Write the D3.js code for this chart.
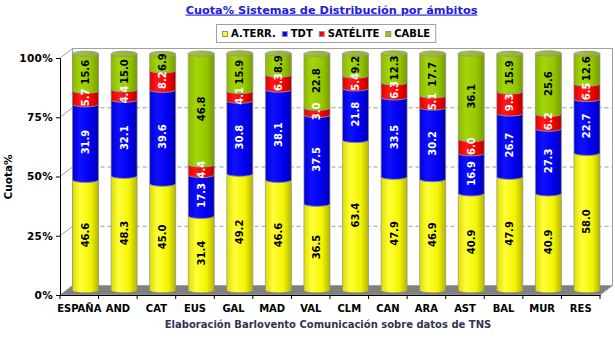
<!DOCTYPE html>
<html><head><meta charset="utf-8">
<script src="https://cdn.jsdelivr.net/npm/d3@7"></script>
<style>
html,body{margin:0;padding:0;background:#fff;}
svg{display:block;font-family:"DejaVu Sans",sans-serif;font-weight:bold;}
</style></head><body>
<svg id="chart" width="615" height="339"></svg>
<script>
// Cuota de cada sistema de distribución de TV por ámbito (%)
const regions   = ["ESPAÑA","AND","CAT","EUS","GAL","MAD","VAL","CLM","CAN","ARA","AST","BAL","MUR","RES"];
const terrestre = [46.6,48.3,45.0,31.4,49.2,46.6,36.5,63.4,47.9,46.9,40.9,47.9,40.9,58.0];
const tdt       = [31.9,32.1,39.6,17.3,30.8,38.1,37.5,21.8,33.5,30.2,16.9,26.7,27.3,22.7];
const satelite  = [5.7,4.4,8.2,4.4,4.1,6.3,3.0,5.4,6.3,5.1,6.0,9.3,6.2,6.5];
const cable     = [15.6,15.0,6.9,46.8,15.9,8.9,22.8,9.2,12.3,17.7,36.1,15.9,25.6,12.6];
const seriesNames = ["A.TERR.","TDT","SATÉLITE","CABLE"];
const yTicks = [0,25,50,75,100];

const palette = {
  "A.TERR.":  {base:"#ffff00", stops:["#dede00","#ffff3a","#f4f400","#b5b500"], text:"#000"},
  "TDT":      {base:"#0000ff", stops:["#0000d8","#1010ff","#0000f0","#0000b0"], text:"#fff"},
  "SATÉLITE": {base:"#ff0000", stops:["#dd0000","#ff1a1a","#f40000","#b50000"], text:"#fff"},
  "CABLE":    {base:"#99cc00", stops:["#8cb800","#a3d60a","#96c600","#769c00"], text:"#000"}
};

const rows = regions.map((r,i)=>({region:r, "A.TERR.":terrestre[i], "TDT":tdt[i], "SATÉLITE":satelite[i], "CABLE":cable[i]}));
const stacked = d3.stack().keys(seriesNames)(rows);

const svg = d3.select("#chart");
const defs = svg.append("defs");

// plot frame and 3D depth
const plotLeft = 60, plotRight = 600, plotBottom = 295, plotTop = 58;
const dx = 12.5, dy = -9.5;

const x = d3.scaleBand().domain(regions).range([plotLeft,plotRight]).paddingInner(0.326).paddingOuter(0.163);
const y = d3.scaleLinear().domain([0,100]).range([plotBottom,plotTop]);

// cylinder shading gradients
seriesNames.forEach((s,k)=>{
  const g = defs.append("linearGradient").attr("id","g"+k).attr("x1","0").attr("x2","1").attr("y1","0").attr("y2","0");
  const st = palette[s].stops;
  [[0,st[0]],[0.3,st[1]],[0.7,st[2]],[1,st[3]]].forEach(([o,c])=>g.append("stop").attr("offset",o).attr("stop-color",c));
});
const capGrad = defs.append("linearGradient").attr("id","cap").attr("x1","0").attr("x2","1");
capGrad.append("stop").attr("offset",0).attr("stop-color","#a8c43a");
capGrad.append("stop").attr("offset",1).attr("stop-color","#92b02a");

// back wall
svg.append("rect").attr("x",plotLeft+dx).attr("y",plotTop+dy).attr("width",plotRight-plotLeft).attr("height",plotBottom-plotTop)
  .attr("fill","#fff").attr("stroke","#a0a0a0").attr("stroke-width",1);

// dashed grid on back wall
svg.append("g").selectAll("line").data(yTicks.filter(t=>t>0&&t<100)).join("line")
  .attr("x1",plotLeft+dx).attr("x2",plotRight+dx)
  .attr("y1",d=>y(d)+dy).attr("y2",d=>y(d)+dy)
  .attr("stroke","#9a9a9a").attr("stroke-dasharray","4,3").attr("stroke-width",1);

// side-wall diagonals at each tick
svg.append("g").selectAll("line").data(yTicks.filter(t=>t>0)).join("line")
  .attr("x1",plotLeft).attr("x2",plotLeft+dx)
  .attr("y1",d=>y(d)).attr("y2",d=>y(d)+dy)
  .attr("stroke","#a0a0a0").attr("stroke-width",1);

// floor
svg.append("path")
  .attr("d",`M${plotLeft},${plotBottom}L${plotRight},${plotBottom}L${plotRight+dx},${plotBottom+dy}L${plotLeft+dx},${plotBottom+dy}Z`)
  .attr("fill","#808080").attr("stroke","#a0a0a0").attr("stroke-width",1);

// y axis
const yAxis = svg.append("g").attr("transform",`translate(${plotLeft},0)`)
  .call(d3.axisLeft(y).tickValues(yTicks).tickFormat(d=>d+"%").tickSize(4).tickPadding(3));
yAxis.select(".domain").attr("stroke","#000");
yAxis.selectAll(".tick line").attr("stroke","#000");
yAxis.selectAll(".tick text").attr("font-size","10.5px").attr("font-weight","bold")
  .attr("font-family","DejaVu Sans").attr("fill","#000").attr("letter-spacing","0.3px");

// x axis with ticks at category boundaries
const xAxis = svg.append("g").attr("transform",`translate(0,${plotBottom})`)
  .call(d3.axisBottom(x).tickSize(0).tickPadding(10));
xAxis.select(".domain").attr("stroke","#000");
xAxis.selectAll(".tick text").attr("font-size","10px").attr("font-weight","bold")
  .attr("font-family","DejaVu Sans").attr("fill","#000");
const step = x.step();
xAxis.append("g").selectAll("line").data(d3.range(regions.length+1)).join("line")
  .attr("x1",i=>plotLeft+i*step).attr("x2",i=>plotLeft+i*step)
  .attr("y1",0).attr("y2",4).attr("stroke","#000");

// cylinders
const ry = 2.6;
const bw = x.bandwidth();
const barsG = svg.append("g").attr("transform",`translate(${dx/2},${dy/2})`);
regions.forEach((r,i)=>{
  const xl = x(r), xr = xl + bw, rx = bw/2;
  const g = barsG.append("g");
  stacked.forEach((layer,k)=>{
    const d = layer[i];
    const yb = y(d[0]), yt = y(d[1]);
    g.append("path")
      .attr("d",`M${xl},${yb}A${rx},${ry} 0 0 0 ${xr},${yb}L${xr},${yt}A${rx},${ry} 0 0 1 ${xl},${yt}Z`)
      .attr("fill",`url(#g${k})`).attr("stroke","#8f8f8f").attr("stroke-width",0.7);
  });
  const topY = y(stacked[stacked.length-1][i][1]);
  g.append("ellipse").attr("cx",xl+rx).attr("cy",topY).attr("rx",rx).attr("ry",ry)
    .attr("fill","url(#cap)").attr("stroke","#8f8f8f").attr("stroke-width",0.7);
});

// value labels
const labelsG = svg.append("g").attr("transform",`translate(${dx/2},${dy/2})`);
stacked.forEach((layer,k)=>{
  layer.forEach((d,i)=>{
    const cx = x(regions[i]) + bw/2;
    const cy = (y(d[0]) + y(d[1]))/2;
    labelsG.append("text")
      .attr("transform",`translate(${cx},${cy}) rotate(-90)`)
      .attr("text-anchor","middle").attr("dominant-baseline","central")
      .attr("font-size","10px").attr("fill",palette[seriesNames[k]].text)
      .text(d3.format(".1f")(d[1]-d[0]));
  });
});

// y axis title
svg.append("text").attr("transform","translate(12,177) rotate(-90)")
  .attr("text-anchor","middle").attr("font-size","10.5px").attr("fill","#000").text("Cuota%");

// chart title
svg.append("text").attr("x",331.5).attr("y",13.5).attr("text-anchor","middle")
  .attr("font-size","11.3px").attr("fill","#2020dd").style("text-decoration","underline")
  .text("Cuota% Sistemas de Distribución por ámbitos");

// footer
svg.append("text").attr("x",328).attr("y",328).attr("text-anchor","middle")
  .attr("font-size","10px").attr("fill","#333355")
  .text("Elaboración Barlovento Comunicación sobre datos de TNS");

// legend
const legend = svg.append("g");
const legendBox = legend.append("rect").attr("fill","#fff").attr("stroke","#a0a0a0").attr("stroke-width",1);
let lx = 0;
const items = legend.append("g");
seriesNames.forEach((s)=>{
  items.append("rect").attr("x",lx+0.5).attr("y",31.5).attr("width",5).attr("height",5)
    .attr("fill",palette[s].base).attr("stroke","#909090").attr("stroke-width",1);
  const t = items.append("text").attr("x",lx+9).attr("y",37).attr("font-size","10px").attr("fill","#000").text(s);
  lx += 9 + t.node().getComputedTextLength() + 6;
});
const legendW = lx - 6;
const legendCx = 326.5;
items.attr("transform",`translate(${Math.round(legendCx - legendW/2)},0)`);
legendBox.attr("x",Math.round(legendCx - legendW/2) - 5.5).attr("y",24.5).attr("width",legendW+11).attr("height",18);
</script>
</body></html>
